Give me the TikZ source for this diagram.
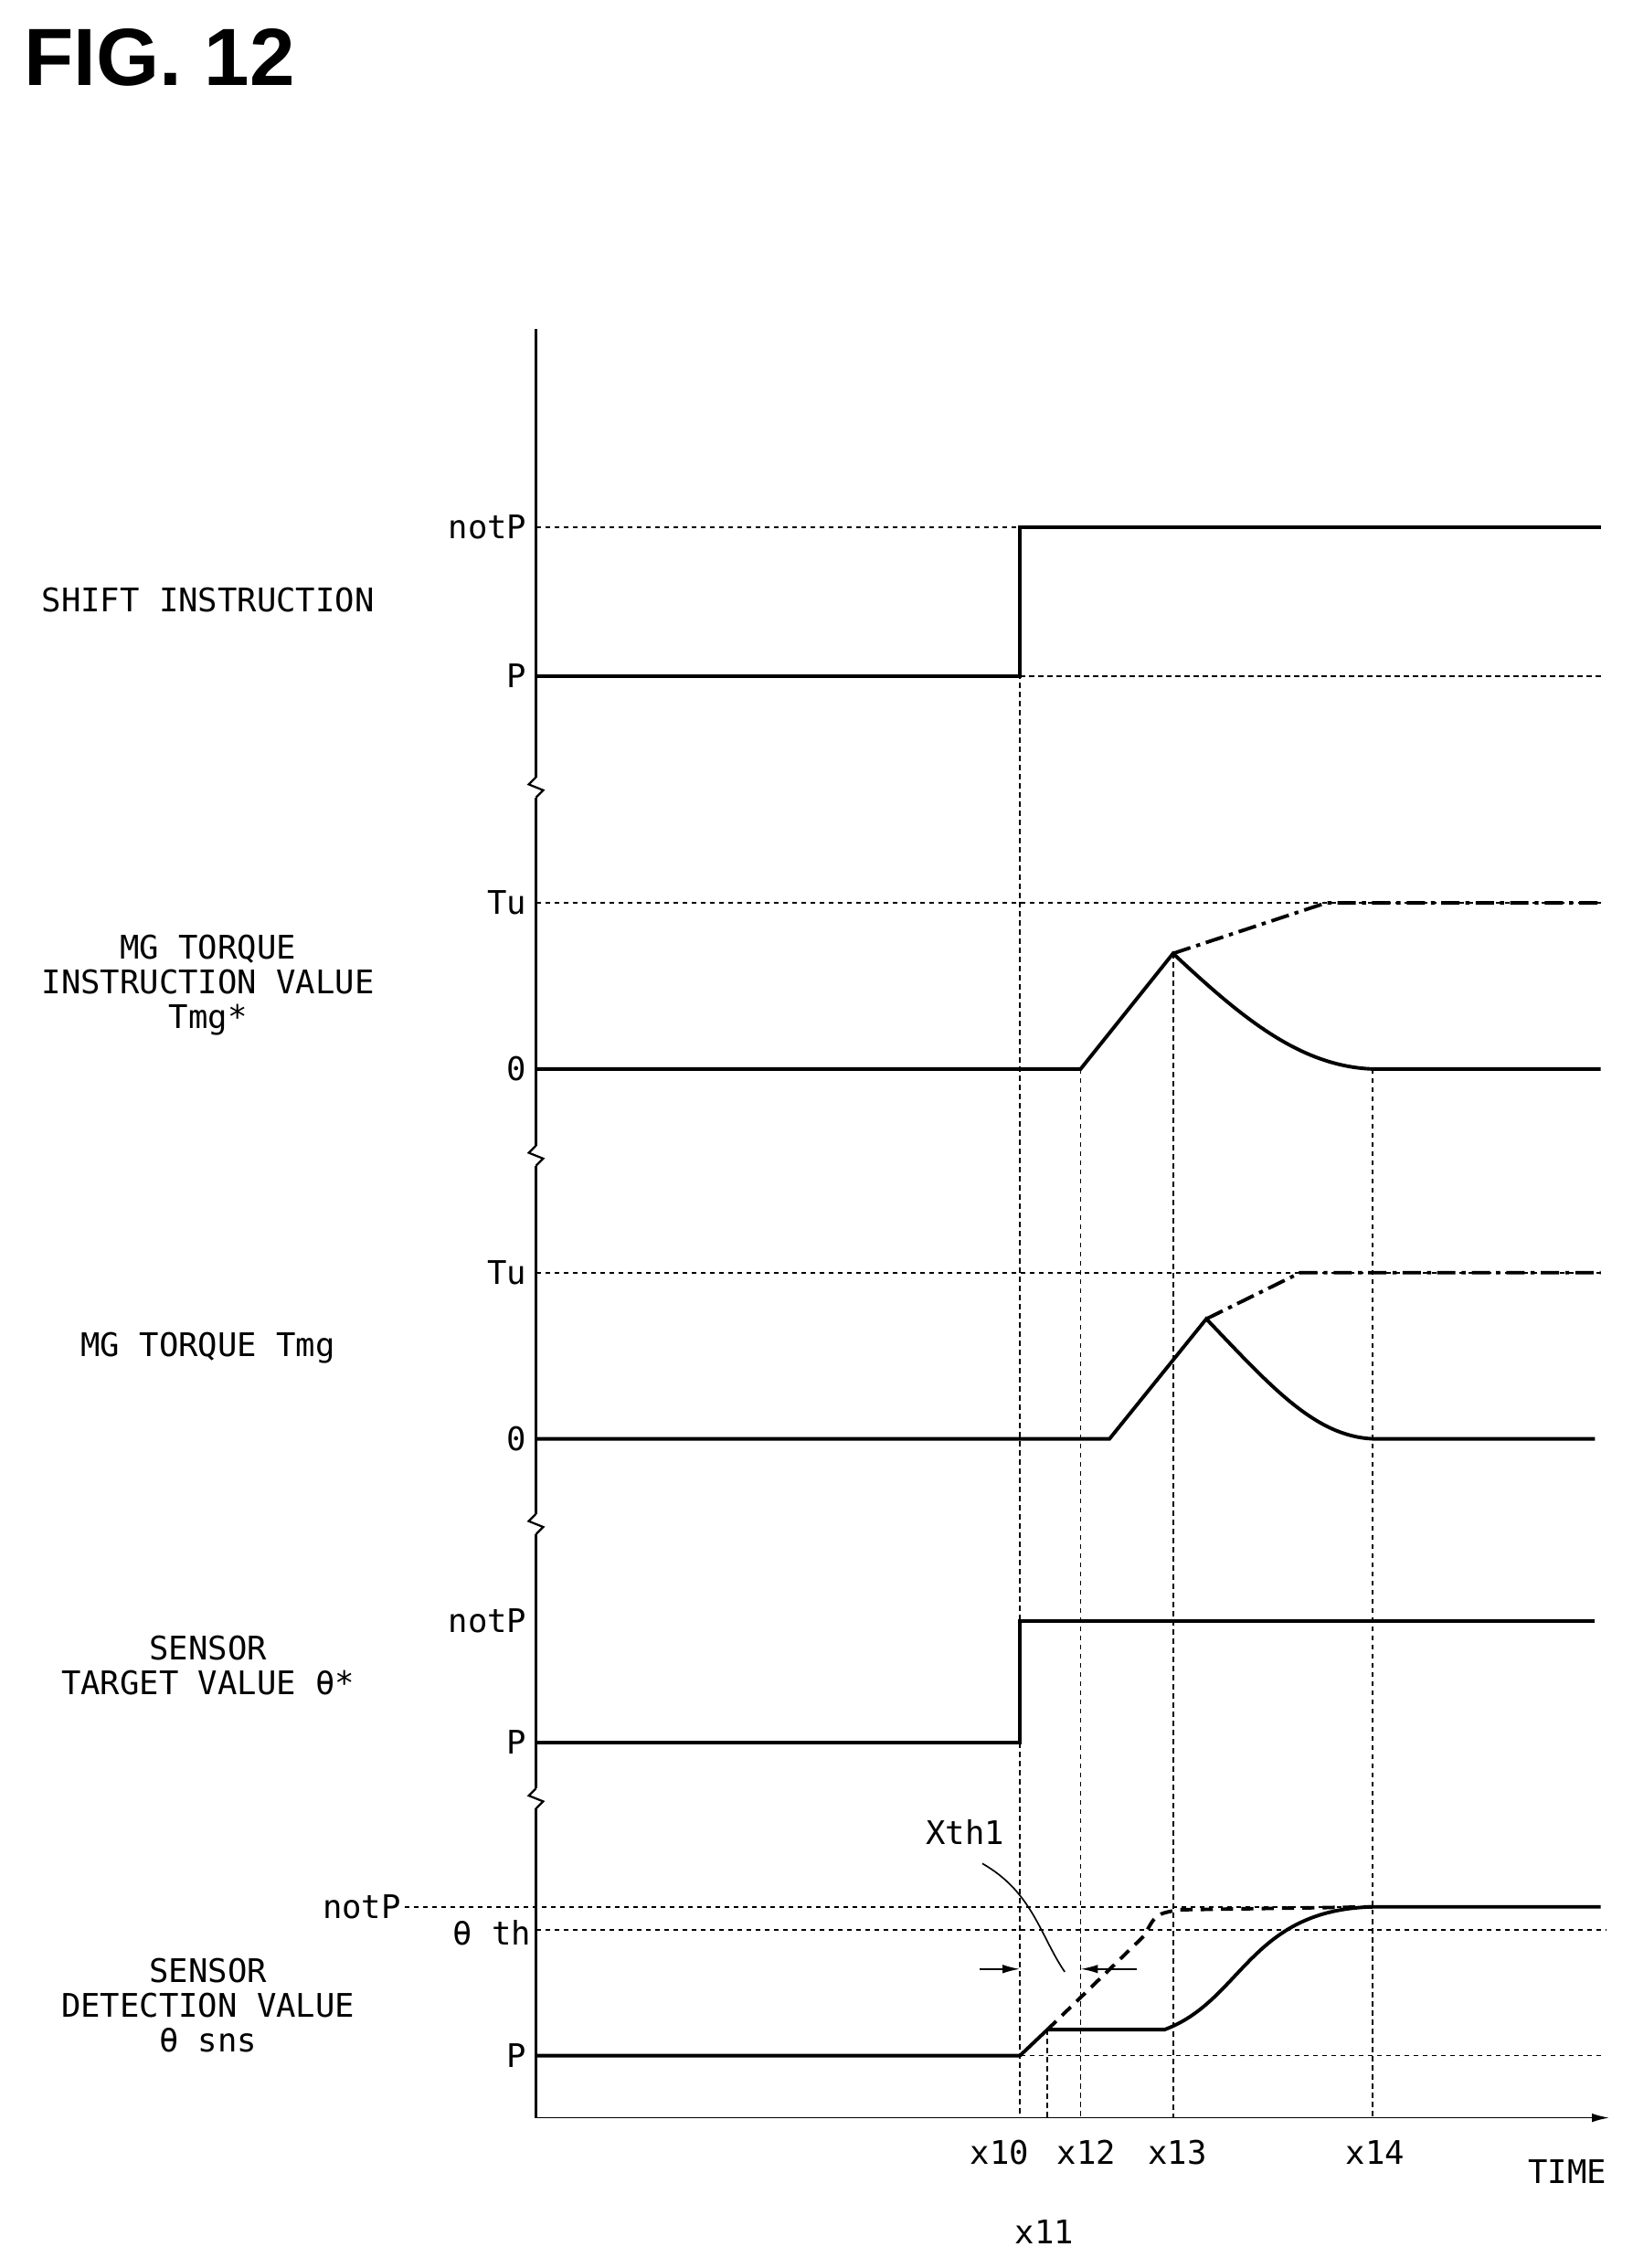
\documentclass[tikz,border=0pt]{standalone}
\usepackage{fontspec}
\setmainfont{DejaVu Sans Mono}
\newfontfamily\titlefont{Liberation Sans}
\usetikzlibrary{arrows.meta}
\begin{document}
\begin{tikzpicture}[x=0.05cm,y=-0.05cm,
lbl/.style ={font=\fontsize{32}{34}\selectfont, align=center},
tick/.style ={font=\fontsize{32}{34}\selectfont, anchor=east},
guide/.style ={line width=1.5pt, dash pattern=on 5pt off 4pt},
sig/.style ={line width=3.5pt},
sigdd/.style ={line width=3.5pt, dash pattern=on 18pt off 6pt on 4pt off 6pt},
sigd/.style ={line width=3.5pt, dash pattern=on 12pt off 8pt},
tip/.style ={-{Latex[length=0.6cm,width=0.3cm]}, line width=1.5pt}]
\useasboundingbox (0,0) rectangle (1130,1570);
\node[anchor=west, font=\titlefont\bfseries\fontsize{80}{80}\selectfont] (title) at (14,40) {FIG. 12};
% axes
\draw[sig] (371,228) -- (371,538);
\foreach \ya/\yb in {552/793,807/1048,1062/1238,1252/1466}
  \draw[sig] (371,\ya) -- (371,\yb);
\foreach \yb in {545,800,1055,1245}
  \draw[line width=2pt] (371,\yb-7) -- (366,\yb-2) -- (376,\yb+2) -- (371,\yb+7);
\draw[tip] (371,1466) -- (1114,1466);
% time markers
\draw[guide] (706,365) -- (706,1466);
\draw[guide] (725,1405) -- (725,1466);
\draw[guide] (748,740) -- (748,1466);
\draw[guide] (812,660) -- (812,1466);
\draw[guide] (950,740) -- (950,1466);
\node[tick, anchor=center] (x10) at (692,1490) {x10};
\node[tick, anchor=center] (x11) at (723,1545) {x11};
\node[tick, anchor=center] (x12) at (752,1490) {x12};
\node[tick, anchor=center] (x13) at (815,1490) {x13};
\node[tick, anchor=center] (x14) at (952,1490) {x14};
\node[tick, anchor=center] (time) at (1085,1503) {TIME};
% shift instruction
\node[lbl] (shift) at (144,415) {SHIFT INSTRUCTION};
\node[tick] (notp1) at (367,365) {notP};
\node[tick] (p1) at (367,468) {P};
\draw[guide] (371,365) -- (1108,365);
\draw[guide] (706,468) -- (1108,468);
\draw[sig] (371,468) -- (706,468) -- (706,365) -- (1108,365);
% MG torque instruction value
\node[lbl] (tmgi) at (144,682) {MG TORQUE\\INSTRUCTION VALUE\\Tmg*};
\node[tick] (tu1) at (367,625) {Tu};
\node[tick] (z1) at (367,740) {0};
\draw[guide] (371,625) -- (1108,625);
\draw[sig] (371,740) -- (748,740) -- (812,660)
  .. controls (860,705) and (900,738) .. (950,740) -- (1108,740);
\draw[sigdd] (812,660) -- (918,625) -- (1108,625);
% MG torque
\node[lbl] (tmg) at (144,933) {MG TORQUE Tmg};
\node[tick] (tu2) at (367,881) {Tu};
\node[tick] (z2) at (367,996) {0};
\draw[guide] (371,881) -- (1108,881);
\draw[sig] (371,996) -- (768,996) -- (835,913)
  .. controls (880,960) and (910,994) .. (950,996) -- (1104,996);
\draw[sigdd] (835,913) -- (900,881) -- (1108,881);
% sensor target value
\node[lbl] (tgt) at (144,1153) {SENSOR\\TARGET VALUE θ*};
\node[tick] (notp2) at (367,1122) {notP};
\node[tick] (p2) at (367,1206) {P};
\draw[sig] (371,1206) -- (706,1206) -- (706,1122) -- (1104,1122);
% sensor detection value
\node[lbl] (det) at (144,1388) {SENSOR\\DETECTION VALUE\\θ sns};
\node[tick] (notp3) at (280,1320) {notP};
\node[tick] (thth) at (370,1338) {θ th};
\node[tick] (p3) at (367,1423) {P};
\draw[guide] (280,1320) -- (1108,1320);
\draw[guide] (371,1336) -- (1112,1336);
\draw[guide] (371,1423) -- (1108,1423);
\draw[sig] (371,1423) -- (706,1423) -- (725,1405) -- (806,1405)
  .. controls (860,1385) and (865,1322) .. (950,1320) -- (1108,1320);
\draw[sigd] (725,1405) -- (792,1340) .. controls (800,1325) .. (816,1322) -- (950,1320);
% Xth1
\draw[tip] (678,1363) -- (706,1363);
\draw[tip] (787,1363) -- (748,1363);
\node[lbl] (xth) at (668,1268) {Xth1};
\draw[line width=1.5pt] (680,1290) .. controls (715,1310) and (720,1340) .. (737,1365);
\end{tikzpicture}
\end{document}
